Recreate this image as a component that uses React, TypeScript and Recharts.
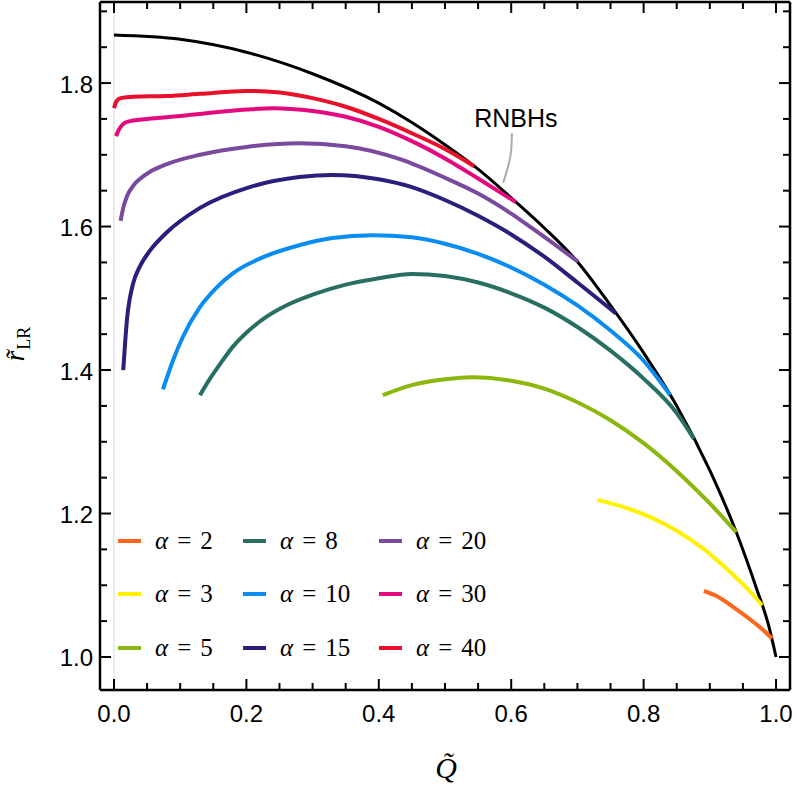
import { LineChart, Line, XAxis, YAxis, ReferenceLine, ReferenceDot } from 'recharts';

type Pt = { q: number; r: number };

const xTicks = [0, 0.05, 0.1, 0.15, 0.2, 0.25, 0.3, 0.35, 0.4, 0.45, 0.5, 0.55, 0.6, 0.65, 0.7, 0.75, 0.8, 0.85, 0.9, 0.95, 1.0];
const yTicks = [1.0, 1.05, 1.1, 1.15, 1.2, 1.25, 1.3, 1.35, 1.4, 1.45, 1.5, 1.55, 1.6, 1.65, 1.7, 1.75, 1.8, 1.85, 1.9];

const pts = (rows: number[][]): Pt[] => rows.map(([q, r]) => ({ q, r }));

// RNBH boundary (black)
const rnbh = pts([
  [0, 1.867], [0.1, 1.861], [0.2, 1.843], [0.3, 1.813], [0.4, 1.772], [0.45, 1.745],
  [0.5, 1.714], [0.55, 1.68], [0.6, 1.64], [0.65, 1.598], [0.7, 1.551], [0.75, 1.49],
  [0.8, 1.424], [0.85, 1.35], [0.9, 1.26], [0.94, 1.174], [0.97, 1.097], [0.99, 1.04], [1.0, 1.0],
]);

const a2 = pts([[0.891, 1.092], [0.91, 1.085], [0.935, 1.07], [0.96, 1.053], [0.98, 1.038], [0.994, 1.026]]);
const a3 = pts([
  [0.73, 1.219], [0.77, 1.209], [0.81, 1.195], [0.85, 1.176], [0.89, 1.151], [0.93, 1.119],
  [0.96, 1.092], [0.979, 1.072],
]);
const a5 = pts([
  [0.406, 1.365], [0.45, 1.379], [0.5, 1.387], [0.54, 1.39], [0.6, 1.385], [0.65, 1.374],
  [0.7, 1.355], [0.75, 1.33], [0.8, 1.298], [0.85, 1.259], [0.9, 1.214], [0.94, 1.174],
]);
const a8 = pts([
  [0.13, 1.365], [0.145, 1.388], [0.16, 1.408], [0.18, 1.433], [0.2, 1.452], [0.23, 1.474],
  [0.26, 1.49], [0.3, 1.505], [0.35, 1.519], [0.4, 1.528], [0.45, 1.534], [0.5, 1.531],
  [0.55, 1.522], [0.6, 1.507], [0.65, 1.487], [0.7, 1.46], [0.75, 1.427], [0.8, 1.388],
  [0.85, 1.34], [0.876, 1.304],
]);
const a10 = pts([
  [0.074, 1.373], [0.089, 1.413], [0.104, 1.446], [0.13, 1.488], [0.155, 1.515], [0.18, 1.535],
  [0.23, 1.559], [0.28, 1.574], [0.33, 1.584], [0.39, 1.588], [0.45, 1.585], [0.5, 1.576],
  [0.55, 1.562], [0.6, 1.543], [0.65, 1.519], [0.7, 1.49], [0.75, 1.455], [0.8, 1.413], [0.84, 1.365],
]);
const a15 = pts([
  [0.014, 1.4], [0.017, 1.44], [0.02, 1.474], [0.024, 1.5], [0.029, 1.521], [0.04, 1.546],
  [0.054, 1.566], [0.08, 1.592], [0.13, 1.626], [0.205, 1.655], [0.28, 1.669], [0.33, 1.672],
  [0.4, 1.666], [0.45, 1.655], [0.5, 1.637], [0.55, 1.615], [0.6, 1.589], [0.65, 1.558],
  [0.7, 1.522], [0.758, 1.479],
]);
const a20 = pts([
  [0.01, 1.608], [0.014, 1.626], [0.02, 1.643], [0.03, 1.658], [0.04, 1.667], [0.054, 1.676],
  [0.08, 1.687], [0.13, 1.7], [0.2, 1.711], [0.28, 1.716], [0.35, 1.712], [0.432, 1.694],
  [0.5, 1.668], [0.55, 1.646], [0.6, 1.618], [0.631, 1.598], [0.701, 1.551],
]);
const a30 = pts([
  [0.003, 1.726], [0.008, 1.736], [0.02, 1.746], [0.05, 1.75], [0.1, 1.754], [0.15, 1.759],
  [0.2, 1.763], [0.24, 1.765], [0.3, 1.761], [0.35, 1.753], [0.4, 1.739], [0.45, 1.719],
  [0.5, 1.695], [0.55, 1.667], [0.607, 1.634],
]);
const a40 = pts([
  [0, 1.765], [0.004, 1.775], [0.01, 1.779], [0.03, 1.781], [0.08, 1.782], [0.13, 1.785],
  [0.2, 1.789], [0.25, 1.787], [0.3, 1.779], [0.35, 1.767], [0.4, 1.75], [0.45, 1.73],
  [0.5, 1.708], [0.544, 1.684],
]);

// leader line from the RNBHs label to the boundary curve
const leader = pts([[0.601, 1.73], [0.6, 1.707], [0.596, 1.686], [0.588, 1.661]]);

const alphas = [2, 3, 5, 8, 10, 15, 20, 30, 40];
const colors = ['#ff661c', '#fff200', '#8cb80e', '#286f62', '#0a8cf0', '#28207c', '#7a4a9f', '#e5097f', '#e8102a'];
const series = [a2, a3, a5, a8, a10, a15, a20, a30, a40];

const FONT_SANS = '"Liberation Sans", Arial, sans-serif';
const FONT_SERIF = '"Liberation Serif", "Times New Roman", serif';

const isMajor = (v: number) => Math.abs(v * 5 - Math.round(v * 5)) < 1e-6;

function BottomTick({ x, y, payload }: any) {
  const major = isMajor(payload.value);
  return (
    <g>
      <line x1={x} x2={x} y1={y} y2={y - (major ? 11 : 7)} stroke="#000" strokeWidth={2} />
      {major ? (
        <text x={x} y={y + 32} textAnchor="middle" fontSize={24} fontFamily={FONT_SANS} fill="#000">
          {payload.value.toFixed(1)}
        </text>
      ) : null}
    </g>
  );
}

function TopTick({ x, y, payload }: any) {
  const major = isMajor(payload.value);
  return <line x1={x} x2={x} y1={y} y2={y + (major ? 11 : 7)} stroke="#000" strokeWidth={2} />;
}

function LeftTick({ x, y, payload }: any) {
  const major = isMajor(payload.value);
  return (
    <g>
      <line x1={x} x2={x + (major ? 11 : 7)} y1={y} y2={y} stroke="#000" strokeWidth={2} />
      {major ? (
        <text x={x - 7} y={y + 9.5} textAnchor="end" fontSize={24} fontFamily={FONT_SANS} fill="#000">
          {payload.value.toFixed(1)}
        </text>
      ) : null}
    </g>
  );
}

function RightTick({ x, y, payload }: any) {
  const major = isMajor(payload.value);
  return <line x1={x} x2={x - (major ? 11 : 7)} y1={y} y2={y} stroke="#000" strokeWidth={2} />;
}

const legendCols = [118, 243, 379];
const legendRows = [541, 594, 648];

export default function App() {
  const xDomain: [number, number] = [-0.0211, 1.0211];
  const yDomain: [number, number] = [0.954, 1.913];
  const axisLine = { stroke: '#000', strokeWidth: 2.5 };

  return (
    <div style={{ position: 'absolute', left: 0, top: 0, width: 797, height: 788, background: '#fff' }}>
      <LineChart width={797} height={788} margin={{ top: 0, right: 0, bottom: 0, left: 0 }}>
        <XAxis
          dataKey="q"
          type="number"
          domain={xDomain}
          allowDataOverflow
          ticks={xTicks}
          interval={0}
          height={98}
          tickSize={0}
          tickMargin={0}
          tickLine={false}
          axisLine={axisLine}
          tick={<BottomTick />}
        />
        <XAxis
          xAxisId="top"
          orientation="top"
          dataKey="q"
          type="number"
          domain={xDomain}
          allowDataOverflow
          ticks={xTicks}
          interval={0}
          height={2}
          tickSize={0}
          tickMargin={0}
          tickLine={false}
          axisLine={axisLine}
          tick={<TopTick />}
        />
        <YAxis
          type="number"
          domain={yDomain}
          allowDataOverflow
          ticks={yTicks}
          interval={0}
          width={100}
          tickSize={0}
          tickMargin={0}
          tickLine={false}
          axisLine={axisLine}
          tick={<LeftTick />}
        />
        <YAxis
          yAxisId="right"
          orientation="right"
          type="number"
          domain={yDomain}
          allowDataOverflow
          ticks={yTicks}
          interval={0}
          width={7}
          tickSize={0}
          tickMargin={0}
          tickLine={false}
          axisLine={axisLine}
          tick={<RightTick />}
        />
        <ReferenceLine x={0} stroke="#d6d6d6" strokeWidth={1} />
        <Line data={rnbh} dataKey="r" type="monotone" stroke="#000" strokeWidth={3} dot={false} isAnimationActive={false} />
        {series.map((d, i) => (
          <Line
            key={alphas[i]}
            data={d}
            dataKey="r"
            name={`α = ${alphas[i]}`}
            type="monotone"
            stroke={colors[i]}
            strokeWidth={4}
            dot={false}
            isAnimationActive={false}
          />
        ))}
        <Line data={leader} dataKey="r" type="natural" stroke="#aaaaaa" strokeWidth={2} dot={false} isAnimationActive={false} />
        <ReferenceDot
          x={0.607}
          y={1.751}
          r={0}
          fill="none"
          stroke="none"
          label={{ value: 'RNBHs', position: 'center', fill: '#000', fontSize: 25, fontFamily: FONT_SANS }}
        />
      </LineChart>

      {alphas.map((a, i) => (
        <div
          key={a}
          style={{
            position: 'absolute',
            left: legendCols[Math.floor(i / 3)],
            top: legendRows[i % 3] - 15,
            height: 30,
            display: 'flex',
            alignItems: 'center',
            fontFamily: FONT_SERIF,
            fontSize: 25,
            whiteSpace: 'nowrap',
          }}
        >
          <span style={{ display: 'inline-block', width: 23, height: 4, background: colors[i], marginRight: 14 }} />
          <i>α</i>
          <span style={{ margin: '0 9px' }}>=</span>
          <span>{a}</span>
        </div>
      ))}

      <div
        style={{
          position: 'absolute',
          left: 446 - 30,
          top: 768 - 22,
          width: 60,
          height: 44,
          textAlign: 'center',
          fontFamily: FONT_SERIF,
          fontSize: 30,
          fontStyle: 'italic',
          lineHeight: '44px',
        }}
      >
        Q̃
      </div>

      <div
        style={{
          position: 'absolute',
          left: 15 - 40,
          top: 344 - 20,
          width: 80,
          height: 40,
          textAlign: 'center',
          lineHeight: '40px',
          fontFamily: FONT_SERIF,
          transform: 'rotate(-90deg)',
          whiteSpace: 'nowrap',
        }}
      >
        <i style={{ fontSize: 27 }}>r̃</i>
        <span style={{ fontSize: 18, position: 'relative', top: 6, marginLeft: 1 }}>LR</span>
      </div>
    </div>
  );
}
